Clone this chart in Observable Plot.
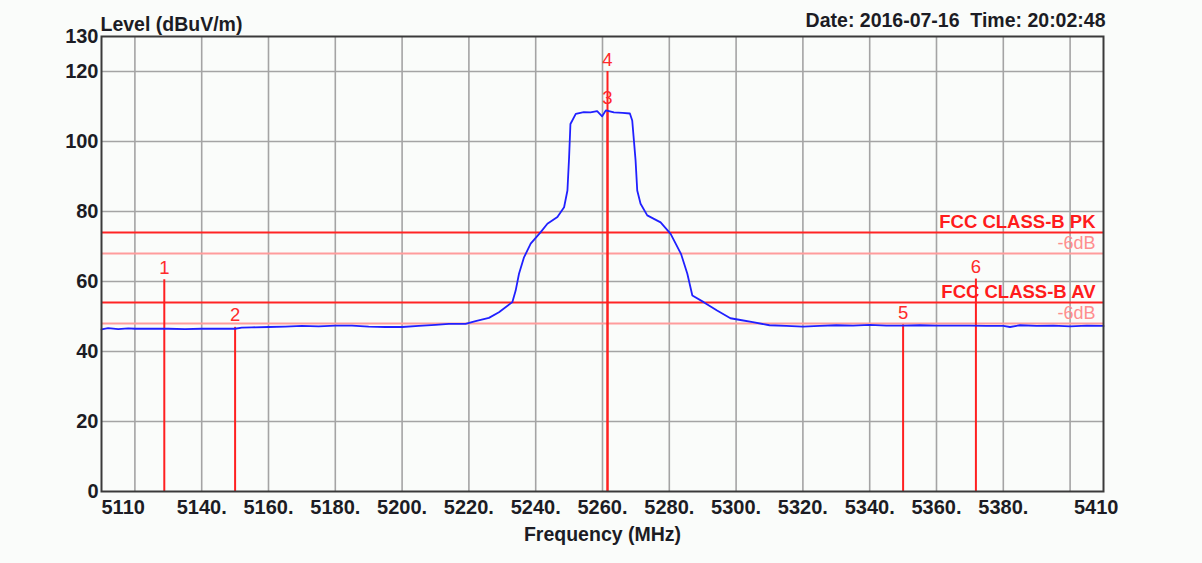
<!DOCTYPE html>
<html>
<head>
<meta charset="utf-8">
<script src="https://cdn.jsdelivr.net/npm/d3@7"></script>
<script src="https://cdn.jsdelivr.net/npm/@observablehq/plot@0.6"></script>
<style>
  html, body { margin: 0; padding: 0; background: #ffffff; }
  #chart svg { display: block; }
</style>
</head>
<body>
<div id="chart"></div>
<script>
// ---- Data ----
const traceFreq = [5110, 5112, 5115, 5118, 5120, 5125, 5130, 5135, 5140, 5145, 5150, 5152, 5155, 5160, 5165, 5170, 5175, 5180, 5185, 5190, 5195, 5200, 5205, 5210, 5214, 5219, 5222, 5226, 5229, 5233, 5234, 5235, 5236.5, 5238.5, 5241.5, 5243.5, 5246.5, 5248.5, 5249.5, 5250, 5250.4, 5252, 5254.4, 5256.4, 5258.4, 5259.9, 5261, 5263.4, 5266, 5268.2, 5268.9, 5269.4, 5269.9, 5270.4, 5271.4, 5273.4, 5277.4, 5280.4, 5283.5, 5285.4, 5286.9, 5290.3, 5294.3, 5298.3, 5301.3, 5305, 5310, 5315, 5320, 5325, 5330, 5335, 5340, 5345, 5350, 5355, 5360, 5365, 5370, 5375, 5380, 5382, 5385, 5390, 5395, 5400, 5405, 5410];
const traceLevel = [46.3, 46.7, 46.4, 46.6, 46.5, 46.5, 46.5, 46.4, 46.5, 46.5, 46.5, 46.8, 46.9, 47.0, 47.1, 47.3, 47.2, 47.4, 47.4, 47.1, 47.0, 47.0, 47.3, 47.6, 47.9, 47.9, 48.7, 49.6, 51.2, 54.1, 57.4, 62.2, 66.9, 70.8, 74.1, 76.5, 78.4, 81.2, 86, 95.5, 105, 107.9, 108.4, 108.3, 108.7, 107.2, 108.9, 108.3, 108.2, 108.0, 106, 100.3, 94.6, 86, 82.2, 78.9, 76.9, 73.6, 67.9, 62.2, 56, 54.1, 51.7, 49.5, 49.0, 48.4, 47.5, 47.3, 47.1, 47.3, 47.5, 47.4, 47.6, 47.4, 47.4, 47.5, 47.4, 47.4, 47.4, 47.3, 47.3, 47.0, 47.5, 47.3, 47.4, 47.2, 47.4, 47.3];

const markerNo = ["1", "2", "3", "4", "5", "6"];
const markerFreq = [5128.8, 5150, 5261.5, 5261.5, 5350, 5371.8];
const markerLevel = [60.5, 46.9, 108.9, 120, 47.6, 60.7];

const limitLevel = [74, 68, 54, 48];
const limitLabel = ["FCC CLASS-B PK", "-6dB", "FCC CLASS-B AV", "-6dB"];
const limitKind = ["main", "offset", "main", "offset"];

const yTicks = [0, 20, 40, 60, 80, 100, 120, 130];
const yGrid = [20, 40, 60, 80, 100, 120];
const xGrid = [5120, 5140, 5160, 5180, 5200, 5220, 5240, 5260, 5280, 5300, 5320, 5340, 5360, 5380, 5400];
const xTicksMid = [5140, 5160, 5180, 5200, 5220, 5240, 5260, 5280, 5300, 5320, 5340, 5360, 5380];
const xTickFirst = [5110];
const xTickLast = [5410];

const titleText = ["Level (dBuV/m)"];
const dateText = ["Date: 2016-07-16  Time: 20:02:48"];
const xLabelText = ["Frequency (MHz)"];

// ---- Build tables ----
const trace = traceFreq.map((f, i) => ({f, v: traceLevel[i]}));
const markers = markerNo.map((n, i) => ({n, f: markerFreq[i], v: markerLevel[i]}));
const limits = limitLevel.map((v, i) => ({v, label: limitLabel[i], kind: limitKind[i]}));
const mainLimits = limits.filter(d => d.kind === "main");
const offLimits = limits.filter(d => d.kind === "offset");

const FONT = "'Liberation Sans', Arial, Helvetica, sans-serif";
const TXT = "#1c1c24";

const chart = Plot.plot({
  width: 1202,
  height: 563,
  marginLeft: 101,
  marginRight: 99,
  marginTop: 36,
  marginBottom: 72,
  style: {fontFamily: FONT, fontSize: "20px", fontWeight: "bold", background: "#fafcfa", color: TXT},
  x: {domain: [5110, 5410], label: null},
  y: {domain: [0, 130], label: null},
  marks: [
    Plot.ruleX(xGrid, {stroke: "#a4a4a4", strokeWidth: 1.6}),
    Plot.ruleY(yGrid, {stroke: "#a4a4a4", strokeWidth: 1.6}),
    Plot.ruleY(offLimits, {y: "v", stroke: "#ff9c9c", strokeWidth: 1.8}),
    Plot.ruleY(mainLimits, {y: "v", stroke: "#ff2424", strokeWidth: 2.2}),
    Plot.ruleX(markers, {x: "f", y1: 0, y2: "v", stroke: "#ff2020", strokeWidth: 2}),
    Plot.line(trace, {x: "f", y: "v", stroke: "#2020ff", strokeWidth: 1.8}),
    Plot.text(markers, {x: "f", y: "v", text: "n", fill: "#ff2a2a", fontWeight: "normal", fontSize: 18.5, lineAnchor: "bottom", dy: -6}),
    Plot.text(mainLimits, {y: "v", text: "label", frameAnchor: "right", textAnchor: "end", lineAnchor: "bottom", dx: -8, dy: -4.5, fill: "#ff1c1c", fontSize: 18.5, fontWeight: "bold"}),
    Plot.text(offLimits, {y: "v", text: "label", frameAnchor: "right", textAnchor: "end", lineAnchor: "bottom", dx: -8, dy: -5, fill: "#ff8e8e", fontSize: 18, fontWeight: "normal"}),
    Plot.frame({stroke: "#3a3a3a", strokeWidth: 2}),
    Plot.axisY(yTicks, {anchor: "left", tickSize: 0, tickPadding: 3, fontSize: 20, fill: TXT, label: null}),
    Plot.axisX(xTicksMid, {anchor: "bottom", tickSize: 0, tickPadding: 8, fontSize: 20, fill: TXT, tickFormat: d => d + ".", label: null}),
    Plot.text(xTickFirst, {x: d => d, text: d => String(d), frameAnchor: "bottom", textAnchor: "start", lineAnchor: "top", dy: 8, fill: TXT, fontSize: 20}),
    Plot.text(xTickLast, {x: d => d, text: d => String(d), frameAnchor: "bottom", textAnchor: "end", lineAnchor: "top", dy: 8, dx: 15, fill: TXT, fontSize: 20}),
    Plot.text(titleText, {text: d => d, frameAnchor: "top-left", textAnchor: "start", lineAnchor: "bottom", dx: -1, dy: -5.5, fill: TXT, fontSize: 19.5}),
    Plot.text(dateText, {text: d => d, frameAnchor: "top-right", textAnchor: "end", lineAnchor: "bottom", dx: 2, dy: -10, fill: TXT, fontSize: 19.5}),
    Plot.text(xLabelText, {text: d => d, frameAnchor: "bottom", textAnchor: "middle", lineAnchor: "bottom", dy: 49, fill: TXT, fontSize: 19.5})
  ]
});
document.getElementById("chart").appendChild(chart);
</script>
</body>
</html>
